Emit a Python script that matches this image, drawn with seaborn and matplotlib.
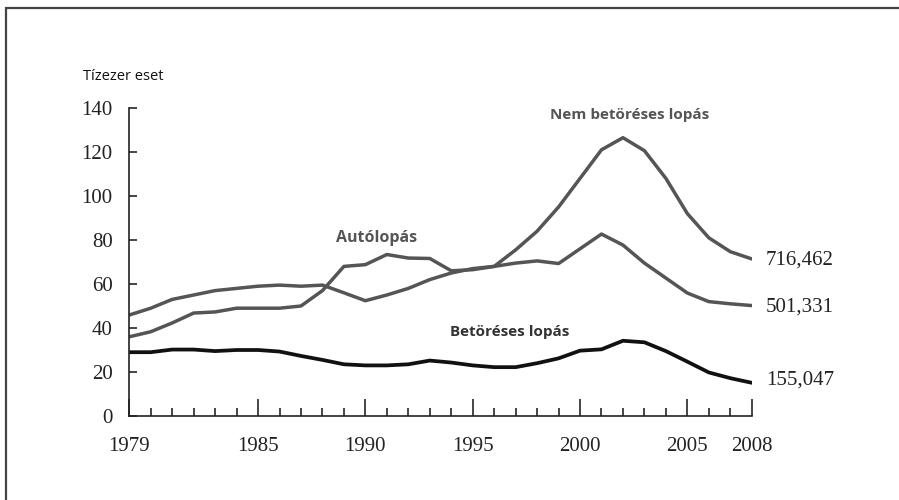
# Crime trend line chart (three theft series, 1979-2008)
import matplotlib
matplotlib.use("Agg")
import matplotlib.pyplot as plt
import seaborn as sns
from matplotlib.patches import Rectangle
from matplotlib.ticker import MultipleLocator

## Data (tízezer eset)
years = list(range(1979, 2009))
nem_betoreses = [45.9, 49, 53, 55, 57, 58, 59, 59.5, 59, 59.5, 56, 52.4, 55, 58, 62,
                 65, 67, 68, 75.5, 84, 95, 108, 121, 126.5, 120.6, 108, 92, 81, 74.7, 71.4]
autolopas = [36, 38.3, 42.3, 46.8, 47.3, 49, 49, 49, 50, 57, 68, 68.8, 73.4, 71.8, 71.6,
             66, 66.5, 68, 69.5, 70.5, 69.3, 76, 82.7, 77.7, 69.5, 62.7, 55.9, 52, 51, 50.2]
betoreses = [29, 29, 30.2, 30.2, 29.5, 30, 30, 29.3, 27.3, 25.5, 23.5, 23, 23, 23.5, 25.2,
             24.3, 23, 22.2, 22.2, 24, 26.2, 29.7, 30.3, 34.2, 33.5, 29.5, 24.7, 19.8, 17.2, 15.1]
end_labels = ["716,462", "501,331", "155,047"]
x_ticklabels = [1979, 1985, 1990, 1995, 2000, 2005, 2008]
y_ticks = [0, 20, 40, 60, 80, 100, 120, 140]

GRAY, DARK = "#555555", "#111111"
SERIF = ["Liberation Serif", "DejaVu Serif"]
SANS = ["Open Sans", "DejaVu Sans"]

sns.set_style("white")
plt.rcParams["font.family"] = SERIF

fig = plt.figure(figsize=(8.99, 5.0), dpi=100)
ax = fig.add_axes([0.1438, 0.168, 0.6924, 0.616])

sns.lineplot(x=years, y=nem_betoreses, color=GRAY, linewidth=2.5, ax=ax)
sns.lineplot(x=years, y=autolopas, color=GRAY, linewidth=2.5, ax=ax)
sns.lineplot(x=years, y=betoreses, color=DARK, linewidth=2.7, ax=ax)

ax.set_xlim(1979, 2008)
ax.set_ylim(0, 140)
ax.set_yticks(y_ticks)
ax.set_xticks(x_ticklabels)
ax.xaxis.set_minor_locator(MultipleLocator(1))
ax.tick_params(axis="y", direction="in", length=6, width=1.2, labelsize=15, pad=12,
               left=True, labelcolor="#222222")
ax.tick_params(axis="x", which="major", direction="in", length=12, width=1.2,
               labelsize=15, pad=15, bottom=True, labelcolor="#222222")
ax.tick_params(axis="x", which="minor", direction="in", length=6, width=1.2, bottom=True)
for s in ["top", "right"]:
    ax.spines[s].set_visible(False)
for s in ["left", "bottom"]:
    ax.spines[s].set_color("#222222")
    ax.spines[s].set_linewidth(1.2)
ax.set_xlabel("")
ax.set_ylabel("")

# series labels
ax.text(1990.5, 80.9, "Autólopás", ha="center", va="center", fontsize=11.5,
        fontweight="bold", color=GRAY, family=SANS)
ax.text(2002.33, 136.8, "Nem betöréses lopás", ha="center", va="center", fontsize=11,
        fontweight="bold", color=GRAY, family=SANS)
ax.text(1996.7, 38.2, "Betöréses lopás", ha="center", va="center", fontsize=11,
        fontweight="bold", color="#333333", family=SANS)
for val, lab in zip([70.9, 49.5, 16.4], end_labels):
    ax.text(2008.67, val, lab, ha="left", va="center", fontsize=15, color="#222222",
            clip_on=False)

fig.text(83 / 899, 1 - 77 / 500, "Tízezer eset", ha="left", va="center", fontsize=10.5,
         color="#111111", family=SANS)

# outer frame
fig.patches.append(Rectangle((6 / 899, -0.05), 1.0, 1 - 8 / 500 + 0.05,
                             transform=fig.transFigure, fill=False,
                             edgecolor="#444444", linewidth=1.6))

plt.savefig("out.png", dpi=100)
plt.close()
